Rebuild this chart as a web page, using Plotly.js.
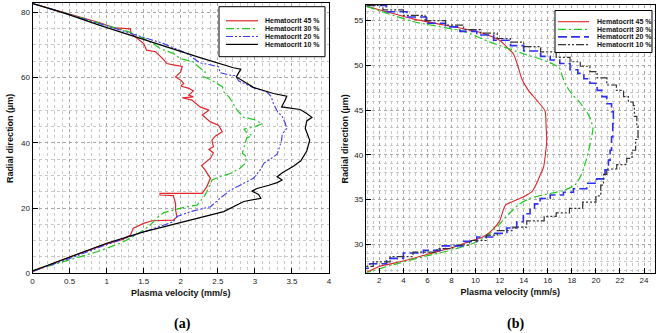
<!DOCTYPE html>
<html><head><meta charset="utf-8">
<script src="https://cdn.plot.ly/plotly-3.0.1.min.js"></script>
<style>html,body{margin:0;padding:0;background:#fff}#chart{width:661px;height:333px}</style>
</head><body><div id="chart"></div>
<script>
// ---------- Panel (a) data: plasma velocity (mm/s) vs radial direction (um)
const seriesNames = ['Hematocrit 45 %', 'Hematocrit 30 %', 'Hematocrit 20 %', 'Hematocrit 10 %'];

const a45_r = [82.7,79.7,76.8,75.2,74.9,73.5,72.0,70.4,68.4,67.9,65.5,64.3,63.9,63.4,61.7,60.2,59.2,58.2,57.4,56.7,55.9,54.6,54.1,53.8,53.1,51.0,50.0,48.5,46.4,45.4,43.4,42.1,40.8,38.8,38.0,36.9,35.2,33.0,31.6,29.1,26.5,25.2,24.5,24.5,24.0,23.8,21.4,19.4,17.3,16.3,16.1,15.3,13.8,11.7,10.4,9.0,5.0,0.5];
const a45_v = [0,0.45,0.91,1.11,1.32,1.33,1.41,1.50,1.54,1.66,1.77,1.81,1.90,2.02,2.00,1.93,2.00,2.04,2.00,2.11,2.17,2.11,2.17,2.02,2.15,2.26,2.38,2.29,2.40,2.51,2.56,2.47,2.42,2.44,2.38,2.44,2.40,2.28,2.33,2.40,2.35,2.31,2.29,1.72,1.72,1.90,1.93,1.93,1.95,1.90,1.61,1.50,1.36,1.32,1.22,1.00,0.50,0];

const a30_r = [82.7,79.8,76.6,74.0,72.0,69.9,68.9,67.4,65.8,64.8,63.3,61.7,60.2,59.4,58.2,57.2,55.6,54.1,52.6,50.0,47.8,47.2,45.9,44.9,44.2,43.2,42.2,41.5,39.8,36.8,35.7,33.7,32.2,30.6,29.6,28.6,26.5,24.0,20.9,20.4,18.6,17.0,14.8,13.3,10.7,9.2,6.6,4.1,0.8];
const a30_v = [0,0.45,0.91,1.30,1.50,1.66,1.72,1.90,2.00,2.17,2.24,2.33,2.31,2.40,2.49,2.56,2.58,2.65,2.69,2.76,2.85,2.98,3.10,3.00,2.85,2.89,2.96,2.89,2.87,2.83,2.89,2.87,2.80,2.67,2.53,2.42,2.38,2.33,2.22,2.08,1.77,1.68,1.59,1.50,1.32,1.18,0.87,0.51,0];

const a20_r = [82.7,79.7,76.5,73.3,70.4,67.4,64.5,63.9,63.3,61.5,60.7,60.6,59.0,56.9,55.6,54.2,52.0,49.8,48.0,46.0,44.4,42.7,40.8,38.5,36.5,35.2,33.7,31.6,29.1,27.6,25.5,23.0,20.4,18.9,17.4,15.8,14.8,12.7,8.8,4.6,0.6];
const a20_v = [0,0.45,0.91,1.36,1.77,2.08,2.26,2.40,2.51,2.53,2.67,2.74,2.78,2.98,3.16,3.22,3.25,3.30,3.37,3.41,3.43,3.37,3.36,3.33,3.30,3.22,3.12,3.07,2.98,2.85,2.67,2.53,2.40,2.13,1.95,1.90,1.77,1.52,1.00,0.51,0];

const a10_r = [82.7,79.6,76.0,72.6,69.4,66.1,63.0,62.6,60.2,57.0,55.1,54.3,53.1,51.0,50.2,49.0,47.8,46.7,44.4,40.8,37.5,34.5,32.8,30.8,29.6,28.6,27.8,27.0,26.0,25.2,24.2,23.0,22.6,22.0,18.9,15.5,12.7,9.2,5.1,0.7];
const a10_v = [0,0.45,0.91,1.36,1.81,2.26,2.71,2.81,2.75,2.98,3.25,3.43,3.41,3.36,3.61,3.70,3.77,3.70,3.68,3.74,3.70,3.62,3.52,3.37,3.30,3.37,3.30,3.19,3.03,2.96,3.05,3.08,2.97,2.85,2.58,2.00,1.50,1.00,0.51,0];

// ---------- Panel (b) data
const b45_r = [56.6,55.2,54.1,53.6,52.8,51.9,51.3,50.0,48.5,47.2,46.1,44.9,43.2,41.5,40.0,38.6,37.7,36.8,35.9,35.3,34.8,34.4,33.8,32.6,31.6,30.8,30.3,29.7,28.9,28.1,27.5,26.85];
const b45_v = [0.95,4.8,9.0,10.6,12.0,12.7,13.14,13.5,13.84,14.39,15.08,15.77,15.86,15.91,15.8,15.65,15.36,15.08,14.7,14.0,13.14,12.5,12.3,12.0,11.4,10.6,9.5,8.3,6.1,4.0,2.0,0.95];

const b30_r = [56.6,54.9,53.8,52.6,51.3,50.6,50.1,49.6,48.8,47.8,46.8,46.1,45.1,44.0,42.9,41.7,40.5,39.2,37.8,36.6,36.0,35.5,35.1,34.4,33.3,32.1,30.9,30.1,29.3,28.6,27.6,26.8];
const b30_v = [0.95,4.8,9.0,11.2,13.97,15.6,16.5,17.02,17.2,17.5,18.0,18.5,19.1,19.55,19.75,19.6,19.4,19.15,18.8,18.25,17.3,15.6,14.5,13.55,12.72,11.9,10.93,9.82,7.9,5.7,2.9,0.95];

const b20_r = [56.7,56.0,55.4,54.7,54.3,53.8,53.4,52.8,52.2,51.6,51.0,50.6,50.2,49.5,49.1,48.5,48.0,47.2,46.5,45.7,44.8,43.5,42.0,40.5,39.4,38.3,37.3,36.8,36.2,35.8,35.5,35.1,34.5,33.9,33.4,32.5,31.8,31.2,30.8,30.3,29.8,29.3,29.0,28.4,27.8,27.3,27.2];
const b20_v = [0.95,2.6,4.3,5.9,7.5,8.7,10.1,11.5,12.9,14.0,15.4,16.2,17.0,17.85,18.5,19.0,19.5,20.1,20.5,20.9,21.3,21.45,21.4,21.3,21.18,21.04,20.76,20.07,19.24,18.13,17.3,16.2,15.36,14.9,14.53,13.97,13.42,12.6,11.5,10.1,9.0,7.05,5.66,4.0,2.6,1.2,0.95];

const b10_r = [56.7,56.2,55.6,55.0,54.5,54.0,53.6,53.0,52.6,52.1,51.5,50.9,50.4,49.9,49.3,48.6,47.8,47.2,46.5,45.9,45.5,44.3,43.2,41.7,40.5,39.6,38.9,38.4,37.8,36.6,35.4,34.7,34.0,33.5,33.1,32.6,31.9,31.5,31.0,30.4,29.9,29.5,29.1,28.6,28.0,27.5,27.3];
const b10_v = [0.95,2.3,4.0,5.8,7.5,9.0,10.4,11.8,12.9,14.0,15.4,16.7,17.85,18.7,19.5,20.1,20.9,21.7,22.3,22.7,23.1,23.2,23.4,23.5,23.3,23.0,22.56,21.73,20.9,20.63,20.4,20.0,18.9,17.8,16.7,15.7,14.25,13.1,11.8,10.9,9.5,8.1,6.8,4.8,2.9,1.5,0.95];

// ---------- styles
const FONT = 'Arial, "Liberation Sans", sans-serif';
const aStyles = [
  {color:'#e3262b', dash:'solid', width:1.2, shape:'linear'},
  {color:'#1fc91f', dash:'8px,3px,2px,3px', width:1.2, shape:'linear'},
  {color:'#3a3af5', dash:'7px,2px,2px,2px,2px,2px', width:1.1, shape:'linear'},
  {color:'#000000', dash:'solid', width:1.2, shape:'linear'}
];
const bStyles = [
  {color:'#e3262b', dash:'solid', width:1.1, shape:'spline'},
  {color:'#1fc91f', dash:'8px,3px,2px,3px', width:1.2, shape:'spline'},
  {color:'#2f2ff2', dash:'9px,4px', width:1.6, shape:'hv'},
  {color:'#333333', dash:'8px,2px,2px,2px,2px,2px', width:1.2, shape:'hv'}
];

const aData = [[a45_v,a45_r],[a30_v,a30_r],[a20_v,a20_r],[a10_v,a10_r]];
const bData = [[b45_v,b45_r],[b30_v,b30_r],[b20_v,b20_r],[b10_v,b10_r]];

const traces = [];
aData.forEach((d,i)=>{
  traces.push({type:'scatter', mode:'lines', x:d[0], y:d[1], xaxis:'x', yaxis:'y', name:seriesNames[i], showlegend:false,
    line:{color:aStyles[i].color, dash:aStyles[i].dash, width:aStyles[i].width, shape:aStyles[i].shape}, hoverinfo:'skip'});
});
bData.forEach((d,i)=>{
  traces.push({type:'scatter', mode:'lines', x:d[0], y:d[1], xaxis:'x2', yaxis:'y2', name:seriesNames[i], showlegend:false,
    line:{color:bStyles[i].color, dash:bStyles[i].dash, width:bStyles[i].width, shape:bStyles[i].shape, smoothing:0.6}, hoverinfo:'skip'});
});

const W = 661, H = 333;
const px = v => v / W;
const py = v => 1 - v / H;

const axCommon = {
  showline:true, linecolor:'#000', linewidth:1, mirror:true,
  ticks:'inside', ticklen:5, tickwidth:1, tickcolor:'#000',
  tickfont:{size:8, color:'#222', family:FONT},
  showgrid:true, gridcolor:'#a8a8a8', griddash:'dot', gridwidth:1,
  zeroline:false, fixedrange:true
};
const titleFont = {size:9, color:'#111', family:FONT};
const minorGrid = {showgrid:true, gridcolor:'#c8c8c8', griddash:'dot', gridwidth:1};

// legends built from shapes + annotations (compact rows)
const shapes = [];
const annotations = [];
function addLegend(box, lineX, textX, rows, styles){
  shapes.push({type:'rect', xref:'paper', yref:'paper', x0:px(box[0]), x1:px(box[1]), y0:py(box[2]), y1:py(box[3]),
    line:{color:'#000', width:1}, fillcolor:'#fff', layer:'above'});
  rows.forEach((r,i)=>{
    shapes.push({type:'line', xref:'paper', yref:'paper', x0:px(lineX[0]), x1:px(lineX[1]), y0:py(r), y1:py(r),
      line:{color:styles[i].color, dash:styles[i].dash, width:styles[i].width}, layer:'above'});
    annotations.push({xref:'paper', yref:'paper', x:px(textX), y:py(r), xanchor:'left', yanchor:'middle', showarrow:false,
      text:'<b>'+seriesNames[i]+'</b>', font:{size:7, color:'#111', family:FONT}});
  });
}
addLegend([219,325,6.7,56.7],[226,258],263,[20.8,28.6,36.5,44.4],aStyles);
addLegend([555,652,10.5,52.5],[558,589],595,[21.7,29.3,36.9,44.6],bStyles);

annotations.push({xref:'paper', yref:'paper', x:px(182), y:py(324), xanchor:'center', yanchor:'middle', showarrow:false,
  text:'<b>(a)</b>', font:{size:14, color:'#000', family:'"Liberation Serif", "DejaVu Serif", serif'}});
annotations.push({xref:'paper', yref:'paper', x:px(515), y:py(324), xanchor:'center', yanchor:'middle', showarrow:false,
  text:'<b>(b)</b>', font:{size:14, color:'#000', family:'"Liberation Serif", "DejaVu Serif", serif'}});

const layout = {
  width:W, height:H, margin:{l:0,r:0,t:0,b:0},
  paper_bgcolor:'#fff', plot_bgcolor:'#fff', showlegend:false,
  font:{family:FONT},
  xaxis:Object.assign({}, axCommon, {domain:[px(32.5), px(329)], range:[0,4], tick0:0, dtick:0.5, anchor:'y',
    minor:Object.assign({dtick:0.1}, minorGrid),
    title:{text:'<b>Plasma velocity (mm/s)</b>', font:titleFont, standoff:4}}),
  yaxis:Object.assign({}, axCommon, {domain:[py(273.3), py(3.3)], range:[0,82.76], tick0:0, dtick:20, anchor:'x',
    minor:Object.assign({dtick:5}, minorGrid),
    title:{text:'<b>Radial direction (µm)</b>', font:titleFont, standoff:5}}),
  xaxis2:Object.assign({}, axCommon, {domain:[px(365.7), px(655)], range:[0.87,24.91], tick0:0, dtick:2, anchor:'y2',
    minor:Object.assign({dtick:0.5}, minorGrid),
    title:{text:'<b>Plasma velocity (mm/s)</b>', font:titleFont, standoff:4}}),
  yaxis2:Object.assign({}, axCommon, {domain:[py(272.7), py(5)], range:[26.8,56.75], tick0:0, dtick:5, anchor:'x2',
    minor:Object.assign({dtick:1}, minorGrid),
    title:{text:'<b>Radial direction (µm)</b>', font:titleFont, standoff:4}}),
  shapes:shapes, annotations:annotations
};

Plotly.newPlot('chart', traces, layout, {staticPlot:true, displayModeBar:false});
</script></body></html>
